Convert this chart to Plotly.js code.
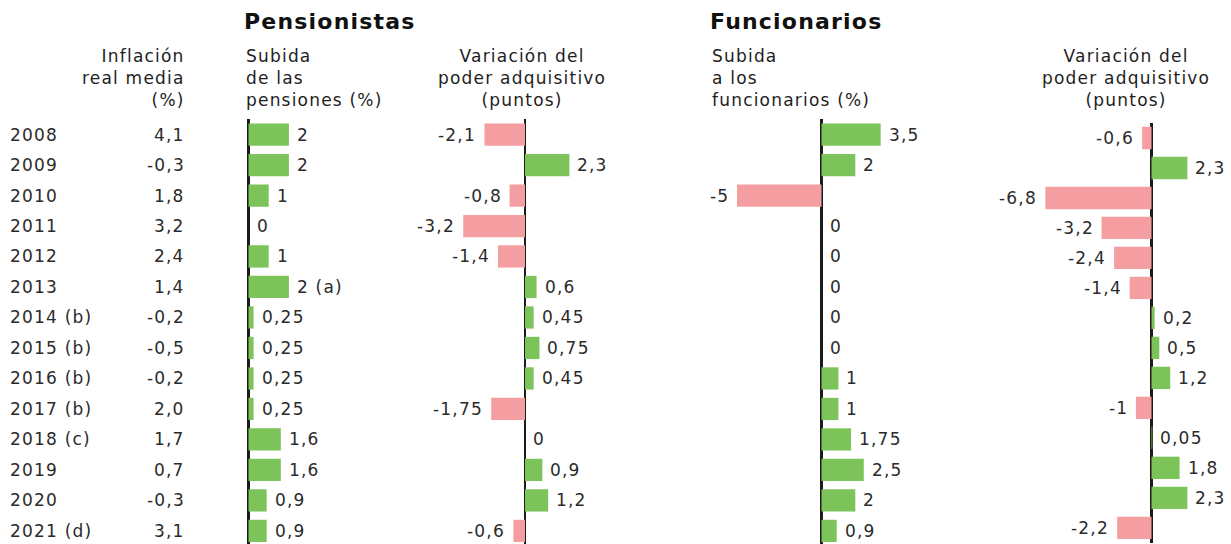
<!DOCTYPE html>
<html><head><meta charset="utf-8">
<script src="https://cdn.plot.ly/plotly-3.0.1.min.js"></script>
<style>html,body{margin:0;padding:0;background:#fff;} text{letter-spacing:1.2px;}</style>
</head><body><div id="chart" style="width:1231px;height:544px;"></div>
<script>
// ---- data ----
const years = ['2008','2009','2010','2011','2012','2013','2014 (b)','2015 (b)','2016 (b)','2017 (b)','2018 (c)','2019','2020','2021 (d)'];
const inflation = [4.1,-0.3,1.8,3.2,2.4,1.4,-0.2,-0.5,-0.2,2.0,1.7,0.7,-0.3,3.1];
const pensionRise = [2,2,1,0,1,2,0.25,0.25,0.25,0.25,1.6,1.6,0.9,0.9];
const pensionNotes = ['','','','','',' (a)','','','','','','','',''];
const pensionPower = [-2.1,2.3,-0.8,-3.2,-1.4,0.6,0.45,0.75,0.45,-1.75,0,0.9,1.2,-0.6];
const civilRise = [3.5,2,-5,0,0,0,0,0,1,1,1.75,2.5,2,0.9];
const civilPower = [-0.6,2.3,-6.8,-3.2,-2.4,-1.4,0.2,0.5,1.2,-1,0.05,1.8,2.3,-2.2];

const groupTitles = ['Pensionistas','Funcionarios'];
const colTitles = ['Inflación<br>real media<br>(%)','Subida<br>de las<br>pensiones (%)','Variación del<br>poder adquisitivo<br>(puntos)','Subida<br>a los<br>funcionarios (%)','Variación del<br>poder adquisitivo<br>(puntos)'];

// ---- style ----
const W = 1231, H = 544;
const GREEN = '#7cc35a', PINK = '#f59ea1';
const FONT = 'DejaVu Sans';
const TXT = '#2b2b2b';
const fmt = v => String(v).replace('.', ',');
const col = arr => arr.map(v => v < 0 ? PINK : GREEN);

function xaxisFor(d0, d1, zero, scale){
  return {domain:[d0/W, d1/W], range:[(d0-zero)/scale, (d1-zero)/scale],
    showgrid:false, showticklabels:false, ticks:'', showline:false,
    zeroline:true, zerolinecolor:'#1c1c1c', zerolinewidth:2.5, fixedrange:true};
}

const panels = [
  {vals: pensionRise, notes: pensionNotes, xa:'x', ya:'y'},
  {vals: pensionPower, xa:'x2', ya:'y'},
  {vals: civilRise, xa:'x3', ya:'y'},
  {vals: civilPower, xa:'x4', ya:'y2'}
];

const traces = panels.map(p => ({
  type:'bar', orientation:'h', x:p.vals, y:years, xaxis:p.xa, yaxis:p.ya,
  width: p.ya==='y2' ? 0.745 : 0.73,
  marker:{color:col(p.vals), line:{width:0}}, hoverinfo:'skip', showlegend:false
}));

const ann = [];
const f = {family:FONT, size:17, color:TXT};
// year + inflation columns (y given as category index)
years.forEach((yl,i) => {
  ann.push({xref:'paper', yref:'y', x:8/W, y:i, text:yl, xanchor:'left', yanchor:'middle', showarrow:false, font:f});
  ann.push({xref:'paper', yref:'y', x:187/W, y:i, text:inflation[i].toFixed(1).replace('.',','), xanchor:'right', yanchor:'middle', showarrow:false, font:f});
});
// bar labels
panels.forEach(p => {
  p.vals.forEach((v,i) => {
    const neg = v < 0;
    ann.push({xref:p.xa, yref:p.ya, x:v, y:i, text: fmt(v) + (p.notes ? p.notes[i] : ''),
      xanchor: neg ? 'right':'left', xshift: neg ? -6 : 6, yanchor:'middle', showarrow:false, font:f});
  });
});
// headers
const hf = {family:FONT, size:22, color:'#111'};
ann.push({xref:'paper', yref:'paper', x:242/W, y:1-22/H, text:'<b>'+groupTitles[0]+'</b>', xanchor:'left', yanchor:'middle', showarrow:false, font:hf});
ann.push({xref:'paper', yref:'paper', x:708/W, y:1-22/H, text:'<b>'+groupTitles[1]+'</b>', xanchor:'left', yanchor:'middle', showarrow:false, font:hf});
const sf = {family:FONT, size:17, color:'#1e1e1e'};
const subPos = [[187,'right'],[244,'left'],[522,'center'],[710,'left'],[1126,'center']];
colTitles.forEach((t,k) => {
  ann.push({xref:'paper', yref:'paper', x:subPos[k][0]/W, y:1-78/H, text:t, xanchor:subPos[k][1], align:subPos[k][1], yanchor:'middle', showarrow:false, font:sf});
});

const layout = {
  width:W, height:H, margin:{l:0,r:0,t:0,b:0}, paper_bgcolor:'#fff', plot_bgcolor:'rgba(0,0,0,0)',
  font:{family:FONT, color:TXT},
  xaxis: xaxisFor(238, 340, 248.5, 20.2),
  xaxis2: xaxisFor(420, 640, 525, 19.3),
  xaxis3: xaxisFor(700, 960, 821.5, 16.9),
  xaxis4: xaxisFor(1000, 1231, 1151.5, 15.6),
  yaxis: {type:'category', categoryorder:'array', categoryarray:years, domain:[0, 1-119.3/H], range:[13.43,-0.5], visible:false, fixedrange:true},
  yaxis2: {type:'category', categoryorder:'array', categoryarray:years, domain:[1.2/H, 1-123/H], range:[13.5,-0.5], visible:false, fixedrange:true},
  annotations: ann, showlegend:false
};
Plotly.newPlot('chart', traces, layout, {displayModeBar:false, staticPlot:true});
</script></body></html>
